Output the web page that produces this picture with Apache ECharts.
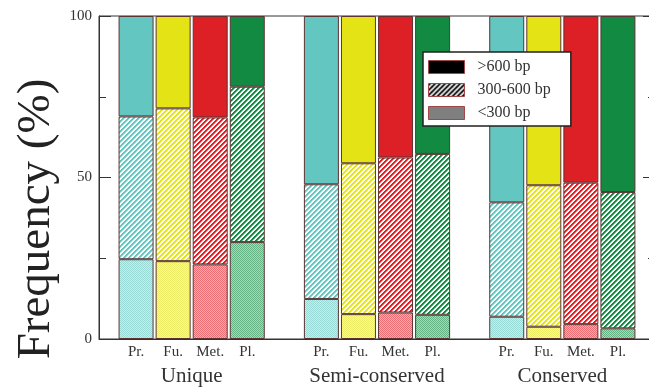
<!DOCTYPE html>
<html>
<head>
<meta charset="utf-8">
<script src="https://cdn.jsdelivr.net/npm/echarts@6/dist/echarts.min.js"></script>
<style>
  html, body { margin: 0; padding: 0; background: #fff; }
  #chart { width: 649px; height: 389px; }
</style>
</head>
<body>
<div id="chart"></div>
<script>
// data (percent of each length class per bar)
const groups = ['Unique', 'Semi-conserved', 'Conserved'];
const taxa = ['Pr.', 'Fu.', 'Met.', 'Pl.'];
const below300 = [24.7, 24.1, 23.1, 30.0, 12.4, 7.7, 8.2, 7.5, 6.9, 3.8, 4.6, 3.3];
const from300to600 = [44.2, 47.3, 45.5, 48.1, 35.5, 46.7, 48.0, 49.8, 35.4, 43.8, 43.8, 42.2];
const above600 = [31.1, 28.6, 31.4, 21.9, 52.1, 45.6, 43.8, 42.7, 57.7, 52.4, 51.6, 54.5];
const yTicks = [0, 50, 100];

const taxaColors = ['#63c6c0', '#e3e316', '#dd1f26', '#128a42'];
const serif = '"Liberation Serif", "DejaVu Serif", serif';

// fill patterns
function tile(size, paint) {
    const c = document.createElement('canvas');
    c.width = size;
    c.height = size;
    const ctx = c.getContext('2d');
    ctx.fillStyle = '#fff';
    ctx.fillRect(0, 0, size, size);
    paint(ctx);
    return {image: c, repeat: 'repeat'};
}

const solid = color => color;

const hatch = color => tile(5, ctx => {
    ctx.fillStyle = color;
    for (let y = 0; y < 5; y++) {
        for (let x = 0; x < 5; x++) {
            const k = (x + y) % 5;
            ctx.globalAlpha = k < 2 ? 1 : (k === 2 ? 0.6 : 0);
            ctx.fillRect(x, y, 1, 1);
        }
    }
});

const dots = (color, a, b) => tile(2, ctx => {
    ctx.fillStyle = color;
    ctx.globalAlpha = a;
    ctx.fillRect(0, 0, 1, 1);
    ctx.fillRect(1, 1, 1, 1);
    ctx.globalAlpha = b;
    ctx.fillRect(1, 0, 1, 1);
    ctx.fillRect(0, 1, 1, 1);
});
const lightDots = color => dots(color, 0.65, 0.35);

// x categories: one empty slot around each group of four
const cats = [''];
groups.forEach(() => {
    taxa.forEach(t => cats.push(t));
    cats.push('');
});

function barData(values, fill) {
    const arr = cats.map(() => null);
    values.forEach((v, i) => {
        const g = Math.floor(i / taxa.length);
        const t = i % taxa.length;
        arr[1 + g * (taxa.length + 1) + t] = {
            value: v,
            itemStyle: {color: fill(taxaColors[t])}
        };
    });
    return arr;
}

const barStyle = {borderColor: '#5c3434', borderWidth: 1};

const series = [
    {name: '<300 bp', values: below300, fill: lightDots},
    {name: '300-600 bp', values: from300to600, fill: hatch},
    {name: '>600 bp', values: above600, fill: solid}
].map(s => ({
    name: s.name,
    type: 'bar',
    stack: 'total',
    barWidth: 35,
    itemStyle: barStyle,
    emphasis: {disabled: true},
    data: barData(s.values, s.fill)
}));

const legendSwatch = {borderColor: '#a04848', borderWidth: 1};

const chart = echarts.init(document.getElementById('chart'));

chart.setOption({
    animation: false,
    grid: {
        left: 99,
        top: 16,
        width: 556,
        height: 323,
        outerBoundsMode: 'none',
        show: true,
        borderColor: '#333',
        borderWidth: 1
    },
    legend: {
        orient: 'vertical',
        left: 423,
        top: 52,
        padding: [7, 20, 5, 5],
        itemWidth: 36,
        itemHeight: 13,
        itemGap: 7,
        selectedMode: false,
        backgroundColor: '#fff',
        borderColor: '#222',
        borderWidth: 1.5,
        textStyle: {fontFamily: serif, fontSize: 16, color: '#333', padding: [0, 0, 0, 8], lineHeight: 13},
        data: [
            {name: '>600 bp', icon: 'rect', itemStyle: Object.assign({color: '#000'}, legendSwatch)},
            {name: '300-600 bp', icon: 'rect', itemStyle: Object.assign({color: hatch('#000')}, legendSwatch)},
            {name: '<300 bp', icon: 'rect', itemStyle: Object.assign({color: dots('#000', 1, 0)}, legendSwatch)}
        ]
    },
    xAxis: [
        {
            type: 'category',
            data: cats,
            boundaryGap: false,
            axisLine: {lineStyle: {color: '#333'}},
            axisTick: {show: false},
            axisLabel: {interval: 0, margin: 6, fontFamily: serif, fontSize: 15, color: '#333'}
        },
        {
            type: 'category',
            data: groups,
            position: 'bottom',
            axisLine: {show: false},
            axisTick: {show: false},
            axisLabel: {interval: 0, margin: 27, fontFamily: serif, fontSize: 21, color: '#333'}
        }
    ],
    yAxis: [
        {
            type: 'value',
            position: 'left',
            min: yTicks[0],
            max: yTicks[yTicks.length - 1],
            interval: yTicks[1] - yTicks[0],
            axisLine: {show: true, lineStyle: {color: '#333'}},
            axisTick: {show: true, inside: true, length: 12, lineStyle: {color: '#333'}},
            minorTick: {show: true, splitNumber: 2, length: 7, lineStyle: {color: '#333'}},
            splitLine: {show: false},
            axisLabel: {margin: 7, fontFamily: serif, fontSize: 15, color: '#333'}
        },
        {
            type: 'value',
            position: 'right',
            min: yTicks[0],
            max: yTicks[yTicks.length - 1],
            interval: yTicks[1] - yTicks[0],
            axisLine: {show: true, lineStyle: {color: '#333'}},
            axisTick: {show: true, inside: true, length: 12, lineStyle: {color: '#333'}},
            minorTick: {show: true, splitNumber: 2, length: 7, lineStyle: {color: '#333'}},
            splitLine: {show: false},
            axisLabel: {show: false}
        }
    ],
    graphic: [{
        type: 'text',
        x: 37,
        y: 219,
        rotation: Math.PI / 2,
        style: {
            text: 'Frequency (%)',
            font: '47px ' + serif,
            fill: '#222',
            textAlign: 'center',
            textVerticalAlign: 'middle'
        }
    }],
    series: series
});
</script>
</body>
</html>
